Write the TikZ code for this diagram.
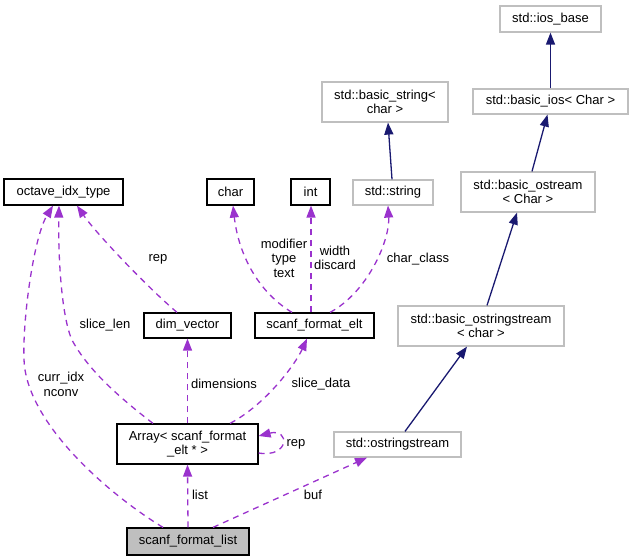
\documentclass[tikz,border=0pt]{standalone}
\usepackage{fontspec}
\setmainfont{Liberation Sans}
\usetikzlibrary{arrows.meta}
\definecolor{usecol}{HTML}{9A32CD}
\definecolor{inhcol}{HTML}{191970}
\definecolor{extgray}{HTML}{BFBFBF}

\begin{document}
\begin{tikzpicture}[x=1pt,y=-1pt,
  font=\fontsize{13}{14.5}\selectfont,
  box/.style={draw=black,line width=1.2pt,fill=white,inner sep=0pt,align=center},
  extbox/.style={box,draw=extgray},
  uses/.style={usecol,line width=1.3pt,dash pattern=on 6pt off 5pt,-{Triangle[length=12pt,width=9pt]}},
  inherits/.style={inhcol,line width=1.3pt,-{Triangle[length=12pt,width=9pt]}},
  lbl/.style={inner sep=0pt,align=center}]
\useasboundingbox (0,0) rectangle (633,560);

\node[extbox,minimum width=101pt,minimum height=26pt] (iosbase) at (550.5,19) {std::ios\_base};
\node[extbox,minimum width=155pt,minimum height=25pt] (basicios) at (550.5,101.5) {std::basic\_ios< Char >};
\node[extbox,minimum width=126pt,minimum height=40pt] (basicstr) at (385,102) {std::basic\_string<\\char >};
\node[extbox,minimum width=80pt,minimum height=25pt] (stdstr) at (393,192.5) {std::string};
\node[box,minimum width=39pt,minimum height=26pt] (int) at (310.5,192) {int};
\node[box,minimum width=47pt,minimum height=26pt] (char) at (230.5,192) {char};
\node[box,minimum width=119pt,minimum height=26pt] (idx) at (63.5,192) {octave\_idx\_type};
\node[extbox,minimum width=134pt,minimum height=40pt] (ostr) at (528,192) {std::basic\_ostream\\< Char >};

\node[box,minimum width=87pt,minimum height=25pt] (dimv) at (187.5,325.5) {dim\_vector};
\node[box,minimum width=119pt,minimum height=25pt] (elt) at (314.5,325.5) {scanf\_format\_elt};
\node[extbox,minimum width=166pt,minimum height=40pt] (bosstr) at (481,326) {std::basic\_ostringstream\\< char >};

\node[box,minimum width=141pt,minimum height=40pt] (arr) at (187.5,444) {Array< scanf\_format\\\_elt * >};
\node[extbox,minimum width=127pt,minimum height=25pt] (oss) at (397.5,444.5) {std::ostringstream};

\node[box,fill=extgray,minimum width=122pt,minimum height=27pt] (list) at (188,541.5) {scanf\_format\_list};

% inheritance
\draw[inherits] (basicios.north) -- (iosbase.south);
\draw[inherits] ([xshift=4pt]ostr.north) -- ([xshift=-3pt]basicios.south);
\draw[inherits] ([xshift=6pt]bosstr.north) -- ([xshift=-11pt]ostr.south);
\draw[inherits] ([xshift=7.5pt]oss.north) -- ([xshift=-14pt]bosstr.south);
\draw[inherits] ([xshift=-1pt]stdstr.north) -- ([xshift=3pt]basicstr.south);

% usage
\draw[uses] ([xshift=-25pt]list.north) .. controls (110,495) and (35,430) .. (25,370)
  .. controls (20,340) and (32,240) .. ([xshift=-10.5pt]idx.south);
\draw[uses] ([xshift=-34.5pt]arr.north) .. controls (120,398) and (88,370) .. (72,340)
  .. controls (62,318) and (58,260) .. ([xshift=-4.5pt]idx.south);
\draw[uses] ([xshift=-10.5pt]dimv.north) .. controls (145,285) and (95,232) .. ([xshift=13.5pt]idx.south);
\draw[uses] ([xshift=-22.5pt]elt.north) .. controls (255,290) and (238,250) .. ([xshift=2.5pt]char.south);
\draw[uses] ([xshift=-3.5pt]elt.north) -- ([xshift=0.5pt]int.south);
\draw[uses] ([xshift=15.5pt]elt.north) .. controls (368,292) and (390,240) .. ([xshift=-5pt]stdstr.south);
\draw[uses] (arr.north) -- (dimv.south);
\draw[uses] ([xshift=42.5pt]arr.north) .. controls (265,405) and (295,365) .. ([xshift=-7.5pt]elt.south);
\draw[uses] ([yshift=-9pt]arr.east) .. controls (290,458) and (290,428) .. ([yshift=8pt]arr.east);
\draw[uses] (list.north) -- (arr.south);
\draw[uses] ([xshift=25pt]list.north) -- ([xshift=-30.5pt]oss.south);

% labels
\node[lbl] (lcurr) at (61,384.5) {curr\_idx\\nconv};
\node[lbl] (lslice) at (105,325) {slice\_len};
\node[lbl] (lrep) at (158,259) {rep};
\node[lbl] (lmod) at (284,258) {modifier\\type\\text};
\node[lbl] (lwidth) at (335,258) {width\\discard};
\node[lbl] (lclass) at (418,259) {char\_class};
\node[lbl] (ldims) at (224,384) {dimensions};
\node[lbl] (ldata) at (321,384) {slice\_data};
\node[lbl] (lrep2) at (296,444) {rep};
\node[lbl] (llist) at (200,495) {list};
\node[lbl] (lbuf) at (313,495) {buf};
\end{tikzpicture}
\end{document}
